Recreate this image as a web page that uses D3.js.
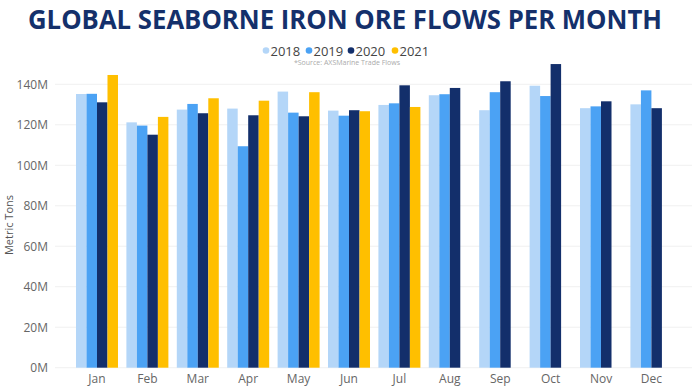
<!DOCTYPE html>
<html><head><meta charset="utf-8">
<script src="https://cdn.jsdelivr.net/npm/d3@7"></script>
<style>body{margin:0;background:#fff;}svg{display:block;font-family:"Open Sans",sans-serif;}</style>
</head><body><svg id="c" width="696" height="391"></svg>
<script>
const months = ["Jan","Feb","Mar","Apr","May","Jun","Jul","Aug","Sep","Oct","Nov","Dec"];
const years = ["2018","2019","2020","2021"];
const v2018 = [135.2,121.2,127.5,128.0,136.4,127.0,129.8,134.6,127.2,139.3,128.2,130.1];
const v2019 = [135.3,119.6,130.3,109.4,126.0,124.5,130.6,135.1,136.1,134.2,129.1,137.0];
const v2020 = [131.1,115.1,125.7,124.7,124.2,127.2,139.5,138.2,141.5,150.0,131.6,128.2];
const v2021 = [144.6,123.9,133.1,131.9,136.1,126.7,128.8,null,null,null,null,null];
const yTicks = [0,20,40,60,80,100,120,140];
const colors = ["#b4d6f8","#4ba2f4","#132f6b","#ffbf00"];
const title = "GLOBAL SEABORNE IRON ORE FLOWS PER MONTH";
const source = "*Source: AXSMarine Trade Flows";
const yLabel = "Metric Tons";

const series = [v2018,v2019,v2020,v2021];
const svg = d3.select("#c");

const x = d3.scaleBand().domain(months).range([71.8,676.6]).paddingInner(0.167).paddingOuter(0.0833);
const x1 = d3.scaleBand().domain(years).range([0,x.bandwidth()]);
const y = d3.scaleLinear().domain([0,140]).range([367.7,84.3]);

// gridlines
svg.append("g").selectAll("line").data(yTicks).join("line")
  .attr("x1",55).attr("x2",692).attr("y1",d=>y(d)).attr("y2",d=>y(d))
  .attr("stroke","#f0f0f0").attr("stroke-width",1);

// y axis
const yAxis = d3.axisLeft(y).tickValues(yTicks).tickFormat(d=>d+"M").tickSize(0).tickPadding(0);
const ga = svg.append("g").attr("transform","translate(48,0)").call(yAxis);
ga.select(".domain").remove();
ga.selectAll("text").attr("fill","#666").style("font-size","12px").style("font-family","'Open Sans',sans-serif");

// bars
const g = svg.append("g");
months.forEach((m,i)=>{
  series.forEach((s,j)=>{
    if(s[i]==null) return;
    g.append("rect").attr("x",x(m)+x1(years[j])).attr("width",x1.bandwidth())
      .attr("y",y(s[i])).attr("height",y(0)-y(s[i])).attr("fill",colors[j]);
  });
});

// x axis
const xAxis = d3.axisBottom(x).tickSize(0).tickPadding(7);
const gx = svg.append("g").attr("transform",`translate(0,${y(0)})`).call(xAxis);
gx.select(".domain").remove();
gx.selectAll("text").attr("fill","#666").style("font-size","12px").style("font-family","'Open Sans',sans-serif");

// y label
svg.append("text").attr("transform","translate(13,225) rotate(-90)").attr("text-anchor","middle")
  .attr("fill","#555").style("font-size","11px").text(yLabel);

// title
svg.append("text").attr("x",345).attr("y",29).attr("text-anchor","middle")
  .attr("fill","#14306b").style("font-weight","700").style("font-size","27px")
  .attr("textLength",634).attr("lengthAdjust","spacingAndGlyphs").text(title);

// legend
const legX = [266,309,351,395];
years.forEach((yr,j)=>{
  svg.append("circle").attr("cx",legX[j]).attr("cy",50.5).attr("r",3.3).attr("fill",colors[j]);
  svg.append("text").attr("x",legX[j]+4.5).attr("y",55.5).attr("fill","#444").style("font-size","13px").text(yr);
});
svg.append("text").attr("x",347).attr("y",65).attr("text-anchor","middle").attr("fill","#aaa")
  .style("font-size","7px").text(source);
</script></body></html>
